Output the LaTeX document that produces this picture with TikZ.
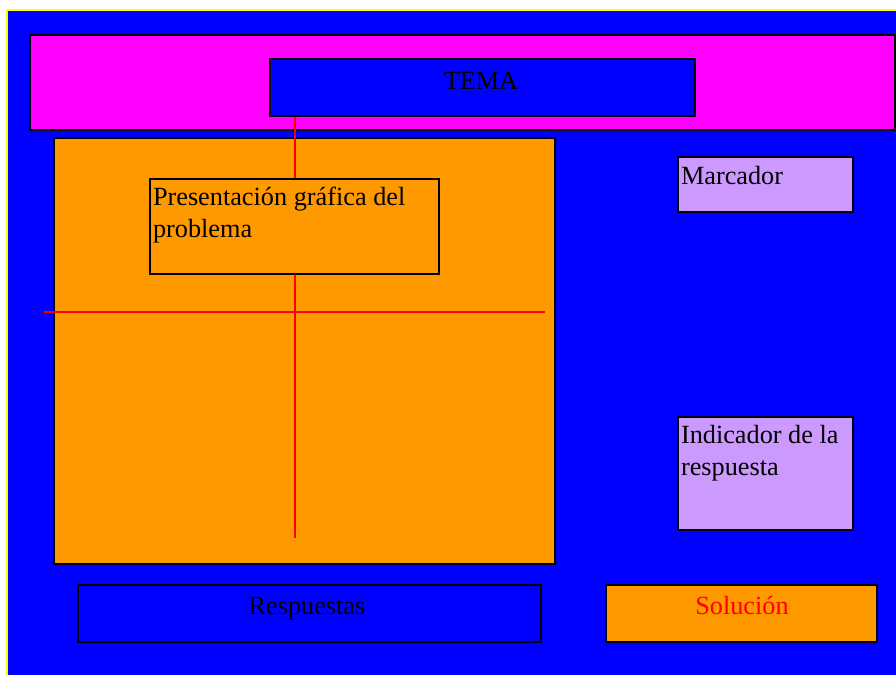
\documentclass[tikz,border=0pt]{standalone}
\usepackage{fontspec}
\setmainfont{Liberation Serif}
\definecolor{bgblue}{HTML}{0000FF}
\definecolor{bgmag}{HTML}{FF00FF}
\definecolor{bgorange}{HTML}{FF9900}
\definecolor{bglav}{HTML}{CC99FF}
\definecolor{bgyellow}{HTML}{FFFF00}
\definecolor{bgred}{HTML}{FF0000}
\tikzset{
  box/.style={draw=black, line width=1.3pt, inner sep=0pt, outer sep=0pt, anchor=north west},
  lbl/.style={inner sep=0pt, outer sep=0pt, font=\fontsize{19.7}{23.3}\selectfont, text=black},
  redline/.style={draw=bgred, line width=1pt},
}
\begin{document}
\begin{tikzpicture}[x=0.75pt,y=-0.75pt]
\useasboundingbox (0,0) rectangle (896,675);
% background
\fill[bgyellow] (6,9) rectangle (896,675);
\fill[bgblue] (7.5,10.5) rectangle (896,675);
% header band
\node[box, fill=bgmag, minimum width=865*0.75pt, minimum height=95*0.75pt] (band) at (30,35) {};
% main area
\node[box, fill=bgorange, minimum width=501*0.75pt, minimum height=426*0.75pt] (area) at (54,138) {};
% red cross lines
\coordinate (vtop) at (295,116);
\coordinate (vbot) at (295,538);
\coordinate (hl) at (44,312);
\coordinate (hr) at (545,312);
\draw[redline] (vtop) -- (vbot);
\draw[redline] (hl) -- (hr);
% TEMA
\node[box, fill=bgblue, minimum width=425*0.75pt, minimum height=57*0.75pt] (tema) at (270,59) {};
\node[lbl, anchor=base] (tematxt) at (481,89) {TEMA};
% Presentacion
\node[box, fill=bgorange, minimum width=289*0.75pt, minimum height=95*0.75pt] (pres) at (150,179) {};
\node[lbl, anchor=base west, align=left] (prestxt) at (153,237) {Presentación gráfica del\\problema};
% Marcador
\node[box, fill=bglav, minimum width=175*0.75pt, minimum height=55*0.75pt] (marc) at (678,157) {};
\node[lbl, anchor=base west] (marctxt) at (681,184) {Marcador};
% Indicador
\node[box, fill=bglav, minimum width=175*0.75pt, minimum height=113*0.75pt] (ind) at (678,417) {};
\node[lbl, anchor=base west, align=left] (indtxt) at (681,475) {Indicador de la\\respuesta};
% Respuestas
\node[box, fill=bgblue, minimum width=463*0.75pt, minimum height=57*0.75pt] (resp) at (78,585) {};
\node[lbl, anchor=base] (resptxt) at (307,614) {Respuestas};
% Solucion
\node[box, fill=bgorange, minimum width=271*0.75pt, minimum height=57*0.75pt] (sol) at (606,585) {};
\node[lbl, anchor=base, text=bgred] (soltxt) at (742,614) {Solución};
\end{tikzpicture}
\end{document}
